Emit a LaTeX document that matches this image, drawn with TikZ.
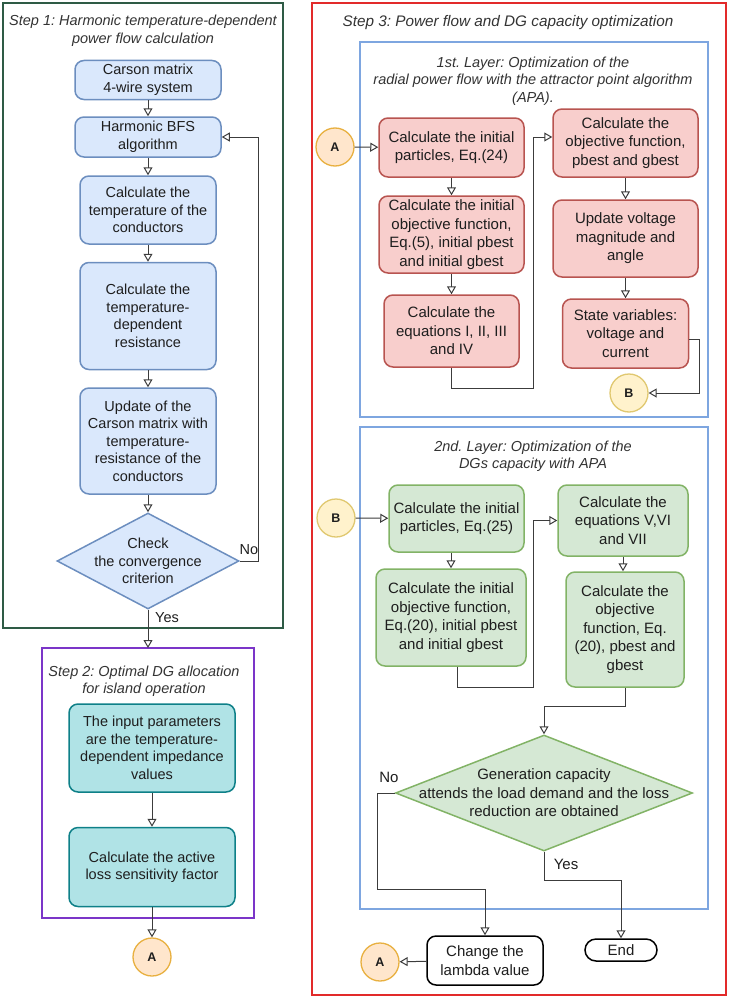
\documentclass[tikz,border=0pt]{standalone}
\usepackage{fontspec}
\setmainfont{Liberation Sans}
\frenchspacing
\usetikzlibrary{arrows.meta}
\usetikzlibrary{shapes}

\definecolor{txt}{HTML}{1E1E1E}
\definecolor{lnk}{HTML}{3C3C3C}
\definecolor{bluefill}{HTML}{DAE8FC}
\definecolor{blueline}{HTML}{6C8EBF}
\definecolor{redfill}{HTML}{F8CECC}
\definecolor{redline}{HTML}{B85450}
\definecolor{greenfill}{HTML}{D5E8D4}
\definecolor{greenline}{HTML}{82B366}
\definecolor{tealfill}{HTML}{B0E3E6}
\definecolor{tealline}{HTML}{0E8088}
\definecolor{orangefill}{HTML}{FFE6CC}
\definecolor{orangeline}{HTML}{E8B040}
\definecolor{yellowfill}{HTML}{FFF2CC}
\definecolor{yellowline}{HTML}{E0C870}
\definecolor{stepone}{HTML}{2E5B45}
\definecolor{steptwo}{HTML}{7B35C8}
\definecolor{stepthree}{HTML}{E22A2A}
\definecolor{layerline}{HTML}{7EA6E0}

\begin{document}
\begin{tikzpicture}[x=1pt,y=-1pt,font=\fontsize{14.5}{17.5}\selectfont,text=txt]
\tikzstyle{box}=[rectangle,rounded corners=9pt,line width=1.5pt,align=center,inner sep=2pt]
\tikzstyle{bluebox}=[box,draw=blueline,fill=bluefill]
\tikzstyle{redbox}=[box,draw=redline,fill=redfill]
\tikzstyle{greenbox}=[box,draw=greenline,fill=greenfill]
\tikzstyle{tealbox}=[box,draw=tealline,fill=tealfill]
\tikzstyle{decision}=[diamond,inner sep=0pt,line width=1.5pt]
\tikzstyle{conn}=[circle,minimum size=38pt,inner sep=0pt,line width=1.3pt,font=\bfseries\fontsize{12.5}{14}\selectfont]
\tikzstyle{frame}=[line width=2.5pt]
\tikzstyle{layer}=[draw=layerline,line width=2pt]
\tikzstyle{title}=[align=center,font=\itshape\fontsize{14.5}{17.5}\selectfont,text=black!80]
\tikzstyle{arr}=[draw=lnk,line width=1pt,-{Triangle[open,length=8pt,width=9pt]}]

\useasboundingbox (0,0) rectangle (729,998);

% frames
\draw[frame,draw=stepone] (3,3) rectangle (283,628);
\draw[frame,draw=steptwo] (42,648) rectangle (254,918);
\draw[frame,draw=stepthree] (312,3) rectangle (726,995);
\draw[layer] (360,42) rectangle (708,417);
\draw[layer] (360,427) rectangle (708,909);

% step 1
\node[title] (t1) at (143,31) {Step 1: Harmonic temperature-dependent\\power flow calculation};
\node[bluebox,minimum width=146pt,minimum height=39pt] (carson) at (148,80) {Carson matrix\\4-wire system};
\node[bluebox,minimum width=146pt,minimum height=40pt] (bfs) at (148,137) {Harmonic BFS\\algorithm};
\node[bluebox,minimum width=136pt,minimum height=68pt] (temp) at (148,210) {Calculate the\\temperature of the\\conductors};
\node[bluebox,minimum width=136pt,minimum height=107pt] (res) at (148,316) {Calculate the\\temperature-\\dependent\\resistance};
\node[bluebox,minimum width=136pt,minimum height=106pt] (upd) at (148,441) {Update of the\\Carson matrix with\\temperature-\\resistance of the\\conductors};
\node[decision,draw=blueline,fill=bluefill,minimum width=182pt,minimum height=96pt,
  label={[align=center]center:Check\\the convergence\\criterion}] (check) at (148,561) {};
\coordinate (s2top) at (148,648);

\draw[arr] (carson) -- (bfs);
\draw[arr] (bfs) -- (temp);
\draw[arr] (temp) -- (res);
\draw[arr] (res) -- (upd);
\draw[arr] (upd) -- (check);
\draw[arr] (check.east) -- ++(19,0) |- (bfs.east);
\draw[arr] (check.south) -- (s2top);
\node (no1) at (249,550) {No};
\node (yes1) at (167,618) {Yes};

% step 2
\node[title] (t2) at (144,681) {Step 2: Optimal DG allocation\\for island operation};
\node[tealbox,minimum width=166pt,minimum height=88pt] (inpar) at (152,748) {The input parameters\\are the temperature-\\dependent impedance\\values};
\node[tealbox,minimum width=166pt,minimum height=79pt] (loss) at (152,867) {Calculate the active\\loss sensitivity factor};
\node[conn,draw=orangeline,fill=orangefill] (a1) at (152,957) {A};
\draw[arr] (inpar) -- (loss);
\draw[arr] (loss) -- (a1);

% step 3
\begin{scope}[font=\fontsize{15}{18.5}\selectfont]
\node[title,font=\itshape\fontsize{15.3}{18}\selectfont] (t3) at (508,23) {Step 3: Power flow and DG capacity optimization};

% 1st layer
\node[title] (t4) at (533,81) {1st. Layer: Optimization of the\\radial power flow with the attractor point algorithm\\(APA).};
\node[conn,draw=orangeline,fill=orangefill] (a2) at (335,147) {A};
\node[redbox,minimum width=145pt,minimum height=59pt] (p1) at (451.5,147.5) {Calculate the initial\\particles, Eq.(24)};
\node[redbox,minimum width=145pt,minimum height=77pt] (p2) at (451.5,234.5) {Calculate the initial\\objective function,\\Eq.(5), initial pbest\\and initial gbest};
\node[redbox,minimum width=135pt,minimum height=72pt] (p3) at (451.5,331) {Calculate the\\equations I, II, III\\and IV};
\node[redbox,minimum width=145pt,minimum height=68pt] (p4) at (625.5,143) {Calculate the\\objective function,\\pbest and gbest};
\node[redbox,minimum width=145pt,minimum height=77pt] (p5) at (625.5,238.5) {Update voltage\\magnitude and\\angle};
\node[redbox,minimum width=126pt,minimum height=69pt] (p6) at (625.5,333.5) {State variables:\\voltage and\\current};
\node[conn,draw=yellowline,fill=yellowfill] (b1) at (629,393) {B};

\draw[arr] (a2) -- (p1);
\draw[arr] (p1) -- (p2);
\draw[arr] (p2) -- (p3);
\draw[arr] (p3.south) -- ++(0,21) -| ([xshift=-19pt,yshift=6pt]p4.west) -- ([yshift=6pt]p4.west);
\draw[arr] (p4) -- (p5);
\draw[arr] (p5) -- (p6);
\draw[arr] ([yshift=-6pt]p6.east) -- ++(10,0) |- (b1.east);

% 2nd layer
\node[title] (t5) at (533,456) {2nd. Layer: Optimization of the\\DGs capacity with APA};
\node[conn,draw=yellowline,fill=yellowfill] (b2) at (336,518) {B};
\node[greenbox,minimum width=135pt,minimum height=67pt] (g1) at (456.5,518.5) {Calculate the initial\\particles, Eq.(25)};
\node[greenbox,minimum width=150pt,minimum height=97pt] (g2) at (451,617.5) {Calculate the initial\\objective function,\\Eq.(20), initial pbest\\and initial gbest};
\node[greenbox,minimum width=130pt,minimum height=71pt] (g3) at (623,520.5) {Calculate the\\equations V,VI\\and VII};
\node[greenbox,minimum width=118pt,minimum height=115pt] (g4) at (625,629.5) {Calculate the\\objective\\function, Eq.\\(20), pbest and\\gbest};
\node[decision,draw=greenline,fill=greenfill,minimum width=297pt,minimum height=116pt,
  label={[align=center]center:Generation capacity\\attends the load demand and the loss\\reduction are obtained}] (dec) at (544,793) {};
\node[box,draw=black,fill=white,minimum width=116pt,minimum height=49pt] (change) at (485,960.5) {Change the\\lambda value};
\node[rectangle,rounded corners=11pt,draw=black,fill=white,line width=1.5pt,minimum width=72pt,minimum height=22pt,inner sep=0pt] (endn) at (621,950) {End};
\node[conn,draw=orangeline,fill=orangefill] (a3) at (380,962) {A};

\draw[arr] (b2) -- (g1);
\draw[arr] (g2.north |- g1.south) -- (g2.north);
\draw[arr] ([xshift=6pt]g2.south) -- ++(0,21) -| ([xshift=-24pt]g3.west) -- (g3.west);
\draw[arr] (g3.south) -- (g3.south |- g4.north);
\draw[arr] (g4.south) -- ++(0,19) -| (dec.north);
\draw[arr] (dec.west) -- ++(-17,0) |- ([yshift=46pt]change.north) -- (change.north);
\draw[arr] (dec.south) -- ++(0,29) -| (endn.north);
\draw[arr] (change) -- (a3);
\node (no2) at (389,777) {No};
\node (yes2) at (566,864) {Yes};
\end{scope}
\end{tikzpicture}
\end{document}
